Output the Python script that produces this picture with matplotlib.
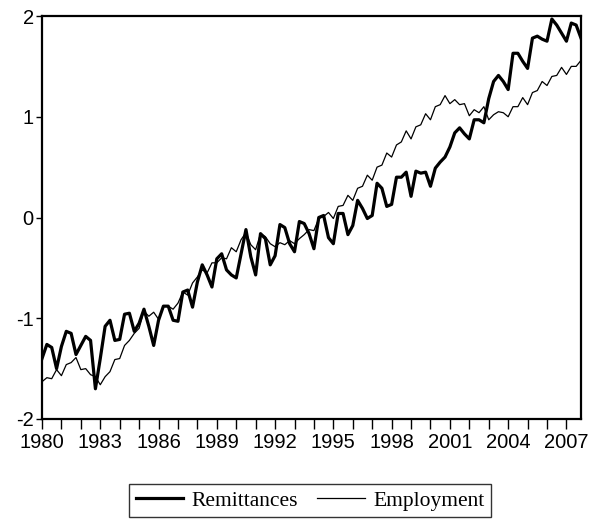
import numpy as np
import matplotlib
matplotlib.use("Agg")
import matplotlib.pyplot as plt
from matplotlib.ticker import MultipleLocator

# quarterly, 1980Q1 .. 2007Q4
start_year = 1980
remittances = [
    -1.40, -1.26, -1.29, -1.50, -1.28, -1.13, -1.15, -1.36, -1.27, -1.18,
    -1.22, -1.70, -1.40, -1.08, -1.02, -1.22, -1.21, -0.96, -0.95, -1.13,
    -1.05, -0.91, -1.08, -1.27, -1.02, -0.88, -0.88, -1.02, -1.03, -0.74,
    -0.72, -0.89, -0.64, -0.47, -0.57, -0.69, -0.41, -0.36, -0.52, -0.57,
    -0.60, -0.36, -0.12, -0.39, -0.57, -0.16, -0.21, -0.47, -0.38, -0.07,
    -0.10, -0.26, -0.34, -0.04, -0.06, -0.16, -0.31, 0.00, 0.02, -0.20,
    -0.26, 0.04, 0.04, -0.17, -0.08, 0.17, 0.09, -0.01, 0.02, 0.34,
    0.29, 0.11, 0.13, 0.40, 0.40, 0.45, 0.21, 0.46, 0.44, 0.45,
    0.31, 0.49, 0.55, 0.60, 0.70, 0.84, 0.89, 0.83, 0.78, 0.97,
    0.97, 0.94, 1.18, 1.35, 1.41, 1.35, 1.27, 1.63, 1.63, 1.55,
    1.48, 1.78, 1.80, 1.77, 1.75, 1.97, 1.91, 1.83, 1.75, 1.93,
    1.91, 1.78,
]
employment = [
    -1.63, -1.59, -1.60, -1.51, -1.57, -1.46, -1.44, -1.39, -1.51, -1.50,
    -1.56, -1.58, -1.66, -1.58, -1.53, -1.41, -1.40, -1.27, -1.22, -1.15,
    -1.10, -0.93, -0.98, -0.94, -1.01, -0.88, -0.88, -0.91, -0.85, -0.74,
    -0.77, -0.65, -0.59, -0.52, -0.55, -0.45, -0.45, -0.40, -0.41, -0.30,
    -0.34, -0.22, -0.15, -0.27, -0.32, -0.16, -0.19, -0.26, -0.29, -0.25,
    -0.27, -0.23, -0.26, -0.21, -0.17, -0.12, -0.13, -0.01, 0.01, 0.05,
    -0.01, 0.11, 0.12, 0.22, 0.17, 0.29, 0.31, 0.42, 0.37, 0.50,
    0.52, 0.64, 0.60, 0.72, 0.75, 0.86, 0.78, 0.90, 0.92, 1.03,
    0.97, 1.10, 1.12, 1.21, 1.13, 1.17, 1.12, 1.13, 1.01, 1.07,
    1.04, 1.10, 0.97, 1.02, 1.05, 1.04, 1.00, 1.10, 1.10, 1.19,
    1.12, 1.24, 1.26, 1.35, 1.31, 1.40, 1.41, 1.49, 1.42, 1.50,
    1.50, 1.56,
]
year_labels = [1980, 1983, 1986, 1989, 1992, 1995, 1998, 2001, 2004, 2007]

t = start_year + np.arange(len(remittances)) / 4.0

plt.rcParams['font.family'] = ['Liberation Sans', 'DejaVu Sans']

fig = plt.figure(figsize=(6.01, 5.21), dpi=100)
ax = fig.add_axes([42 / 601, 1 - 419 / 521, 539 / 601, 403 / 521])

ax.plot(t, remittances, color='black', lw=2.3, label='Remittances')
ax.plot(t, employment, color='black', lw=0.9, label='Employment')

ax.set_xlim(t[0], t[-1])
ax.set_ylim(-2, 2)
ax.set_yticks([-2, -1, 0, 1, 2])
ax.set_yticklabels(['-2', '-1', '0', '1', '2'])
ax.set_xticks(year_labels)
ax.set_xticklabels([str(y) for y in year_labels])
ax.xaxis.set_minor_locator(MultipleLocator(1))

ax.tick_params(axis='both', which='both', direction='out', labelsize=14.5,
               width=1.0, color='black')
ax.tick_params(axis='x', which='both', length=7, pad=3)
ax.tick_params(axis='y', length=4, pad=2)
for s in ax.spines.values():
    s.set_linewidth(1.6)

leg = fig.legend(loc='center', bbox_to_anchor=(0.516, 0.039), ncol=2,
                 frameon=True, fancybox=False, edgecolor='black',
                 prop={'family': 'Liberation Serif', 'size': 15.5},
                 handlelength=2.2, columnspacing=0.9, handletextpad=0.4,
                 borderpad=0.3)
leg.get_frame().set_linewidth(1.0)

fig.savefig('out.png', dpi=100)
